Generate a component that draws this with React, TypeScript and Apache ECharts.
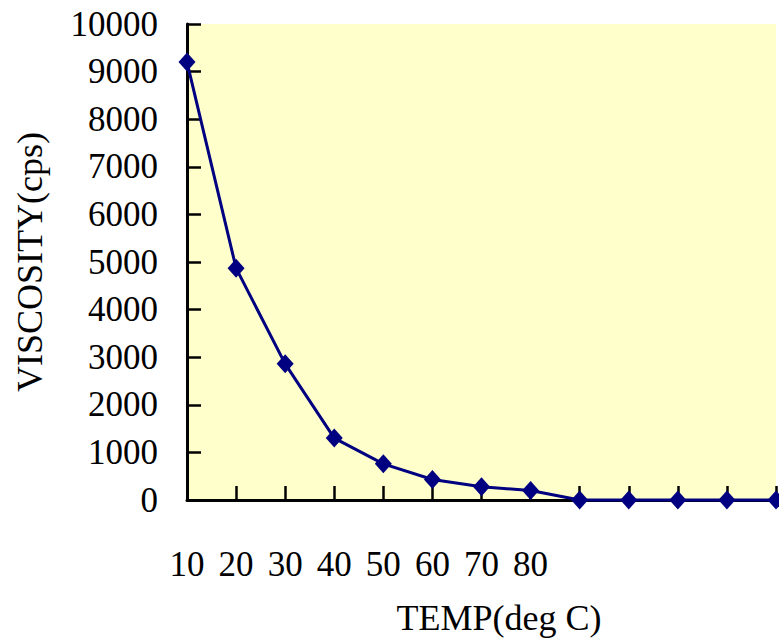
import React, { useEffect, useRef } from "react";
import * as echarts from "echarts";

const categories = ["10", "20", "30", "40", "50", "60", "70", "80", "", "", "", "", ""];
const viscosity = [9200, 4870, 2860, 1300, 760, 430, 280, 200, 0, 0, 0, 0, 0];
const xTitle = "TEMP(deg C)";
const yTitle = "VISCOSITY(cps)";

const FONT = '"Liberation Serif", "DejaVu Serif", serif';

export default function App() {
  const ref = useRef<HTMLDivElement>(null);
  useEffect(() => {
    if (!ref.current) return;
    const chart = echarts.init(ref.current, undefined, { renderer: "svg" });
    chart.setOption({
      animation: false,
      backgroundColor: "#ffffff",
      grid: {
        left: 187,
        top: 24,
        right: 3,
        bottom: 141,
        show: true,
        backgroundColor: "#FFFFCC",
        borderWidth: 0,
      },
      xAxis: {
        type: "category",
        data: categories,
        boundaryGap: false,
        name: xTitle,
        nameLocation: "middle",
        nameGap: 100,
        nameTextStyle: {
          fontFamily: FONT,
          fontSize: 36,
          color: "#000",
          padding: [0, 0, 0, 35],
        },
        axisLine: { show: true, lineStyle: { color: "#000", width: 3 } },
        axisTick: {
          show: true,
          inside: true,
          length: 14,
          interval: 0,
          lineStyle: { color: "#000", width: 2.5 },
        },
        axisLabel: {
          interval: 0,
          margin: 47,
          fontFamily: FONT,
          fontSize: 35,
          color: "#000",
        },
        splitLine: { show: false },
      },
      yAxis: {
        type: "value",
        min: 0,
        max: 10000,
        interval: 1000,
        name: yTitle,
        nameLocation: "middle",
        nameGap: 139,
        nameRotate: 90,
        nameTextStyle: { fontFamily: FONT, fontSize: 36, color: "#000" },
        axisLine: { show: true, lineStyle: { color: "#000", width: 3 } },
        axisTick: {
          show: true,
          inside: true,
          length: 14,
          lineStyle: { color: "#000", width: 2.5 },
        },
        axisLabel: {
          margin: 29,
          fontFamily: FONT,
          fontSize: 35,
          color: "#000",
          formatter: (v: number) => String(v),
        },
        splitLine: { show: false },
      },
      series: [
        {
          type: "line",
          data: viscosity,
          symbol: "diamond",
          symbolSize: [17, 19],
          clip: false,
          lineStyle: { color: "#000080", width: 3 },
          itemStyle: { color: "#000080" },
        },
      ],
    });
    return () => chart.dispose();
  }, []);
  return (
    <div
      ref={ref}
      style={{ position: "fixed", left: 0, top: 0, width: 779, height: 641 }}
    />
  );
}
